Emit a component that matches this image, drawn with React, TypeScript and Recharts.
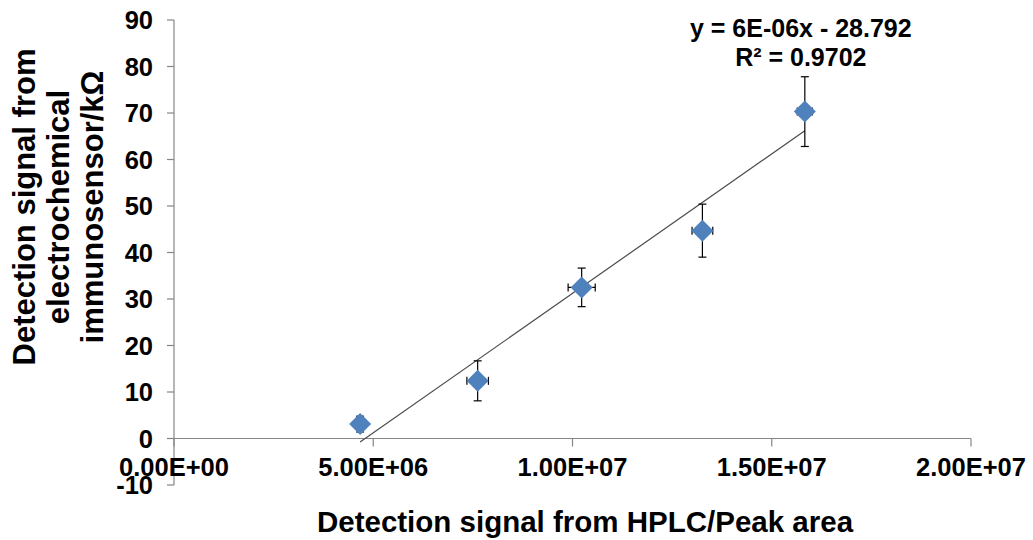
import { ScatterChart, Scatter, XAxis, YAxis, ErrorBar, ReferenceLine } from 'recharts'

// HPLC peak area vs. immunosensor response (mean ± SD)
const hplcArea = [4.67e6, 7.62e6, 1.023e7, 1.326e7, 1.583e7]
const hplcSd = [0.1e6, 0.27e6, 0.34e6, 0.26e6, 0.19e6]
const sensorSignal = [3.1, 12.4, 32.5, 44.7, 70.3]
const sensorSd = [1.7, 4.3, 4.15, 5.7, 7.5]

const xTicks = [0, 5e6, 1e7, 1.5e7, 2e7]
const yTicks = [-10, 0, 10, 20, 30, 40, 50, 60, 70, 80, 90]

// linear fit reported on the chart
const fitSlope = 6e-6
const fitIntercept = -28.792
const fitR2 = 0.9702

const data = hplcArea.map((x, i) => ({
  x,
  y: sensorSignal[i],
  xErr: hplcSd[i],
  yErr: sensorSd[i],
}))

const xMin = Math.min(...hplcArea)
const xMax = Math.max(...hplcArea)
const fitLine = [
  { x: xMin, y: fitSlope * xMin + fitIntercept },
  { x: xMax, y: fitSlope * xMax + fitIntercept },
]

const W = 1033
const H = 540
const MARGIN = { top: 20, right: 62, bottom: 25, left: 114 }
const Y_AXIS_W = 60
const X_AXIS_H = 30
const PLOT_H = H - MARGIN.top - MARGIN.bottom - X_AXIS_H
const Y_DOMAIN: [number, number] = [-10, 90]
// distance from the bottom of the plot up to the y = 0 line
const ZERO_OFFSET = (PLOT_H * (0 - Y_DOMAIN[0])) / (Y_DOMAIN[1] - Y_DOMAIN[0])

const FONT = '"Liberation Sans", Arial, sans-serif'
const AXIS_GRAY = '#868686'
const BLUE = '#4F81BD'

const sci = (v: number) => {
  const [m, e] = v.toExponential(2).split('e')
  const n = Number(e)
  return `${m}E${n < 0 ? '-' : '+'}${String(Math.abs(n)).padStart(2, '0')}`
}

// x ticks hang off the y = 0 line instead of the plot bottom
function XTick(props: any) {
  const { x, y, payload } = props
  const zeroY = y - ZERO_OFFSET
  return (
    <g>
      <line x1={x} x2={x} y1={zeroY} y2={zeroY + 8} stroke={AXIS_GRAY} strokeWidth={1.2} />
      <text
        x={x}
        y={zeroY + 37}
        textAnchor="middle"
        fontFamily={FONT}
        fontWeight="bold"
        fontSize={25.5}
        fill="#000"
      >
        {sci(payload.value)}
      </text>
    </g>
  )
}

function XTitle() {
  return (
    <text
      x={585}
      y={532}
      textAnchor="middle"
      fontFamily={FONT}
      fontWeight="bold"
      fontSize={29.5}
      fill="#000"
    >
      Detection signal from HPLC/Peak area
    </text>
  )
}

function Diamond(props: any) {
  const { cx, cy } = props
  const r = 11
  return (
    <polygon
      points={`${cx},${cy - r} ${cx + r},${cy} ${cx},${cy + r} ${cx - r},${cy}`}
      fill={BLUE}
    />
  )
}

const NoMarker = () => <g />

function YTitle() {
  const lines = ['Detection signal from', 'electrochemical', 'immunosensor/kΩ']
  const cy = 207
  return (
    <g>
      {lines.map((t, i) => {
        const bx = 35 + i * 34
        return (
          <text
            key={t}
            x={bx}
            y={cy}
            transform={`rotate(-90, ${bx}, ${cy})`}
            textAnchor="middle"
            fontFamily={FONT}
            fontWeight="bold"
            fontSize={31}
            fill="#000"
          >
            {t}
          </text>
        )
      })}
    </g>
  )
}

function FitLabel(props: any) {
  const { viewBox } = props
  const ex = viewBox.x + viewBox.width - 4
  const ey = viewBox.y
  return (
    <g fontFamily={FONT} fontWeight="bold" fontSize={25} fill="#000" textAnchor="middle">
      <text x={ex} y={ey - 94}>{`y = ${fitSlope.toExponential(0).replace('e-', 'E-0')}x - ${Math.abs(fitIntercept)}`}</text>
      <text x={ex} y={ey - 65}>{`R² = ${fitR2}`}</text>
    </g>
  )
}

export default function App() {
  return (
    <div style={{ position: 'absolute', left: 0, top: 0, width: W, height: H, background: '#fff' }}>
      <ScatterChart width={W} height={H} margin={MARGIN}>
        <XAxis
          type="number"
          dataKey="x"
          domain={[0, 2e7]}
          ticks={xTicks}
          height={X_AXIS_H}
          axisLine={false}
          tickLine={false}
          tickSize={0}
          tickMargin={0}
          tick={<XTick />}
          interval={0}
          label={{ content: () => <XTitle /> }}
        />
        <YAxis
          type="number"
          dataKey="y"
          domain={Y_DOMAIN}
          ticks={yTicks}
          width={Y_AXIS_W}
          interval={0}
          stroke={AXIS_GRAY}
          axisLine={{ stroke: AXIS_GRAY, strokeWidth: 1.2 }}
          tickLine={{ stroke: AXIS_GRAY, strokeWidth: 1.2 }}
          tickSize={7}
          tickMargin={14}
          tick={{ fontFamily: FONT, fontWeight: 'bold', fontSize: 25.5, fill: '#000' }}
          label={{ content: () => <YTitle /> }}
        />
        <ReferenceLine y={0} stroke={AXIS_GRAY} strokeWidth={1.2} />
        <ReferenceLine
          segment={fitLine}
          stroke="#4a4a4a"
          strokeWidth={1.2}
          label={(p: any) => <FitLabel {...p} />}
        />
        {/* error bars first, markers drawn on top of them */}
        <Scatter data={data} shape={<NoMarker />} isAnimationActive={false}>
          <ErrorBar dataKey="yErr" direction="y" width={4} stroke="#000" strokeWidth={1.2} />
          <ErrorBar dataKey="xErr" direction="x" width={4} stroke="#000" strokeWidth={1.2} />
        </Scatter>
        <Scatter data={data} shape={<Diamond />} isAnimationActive={false} />
      </ScatterChart>
    </div>
  )
}
